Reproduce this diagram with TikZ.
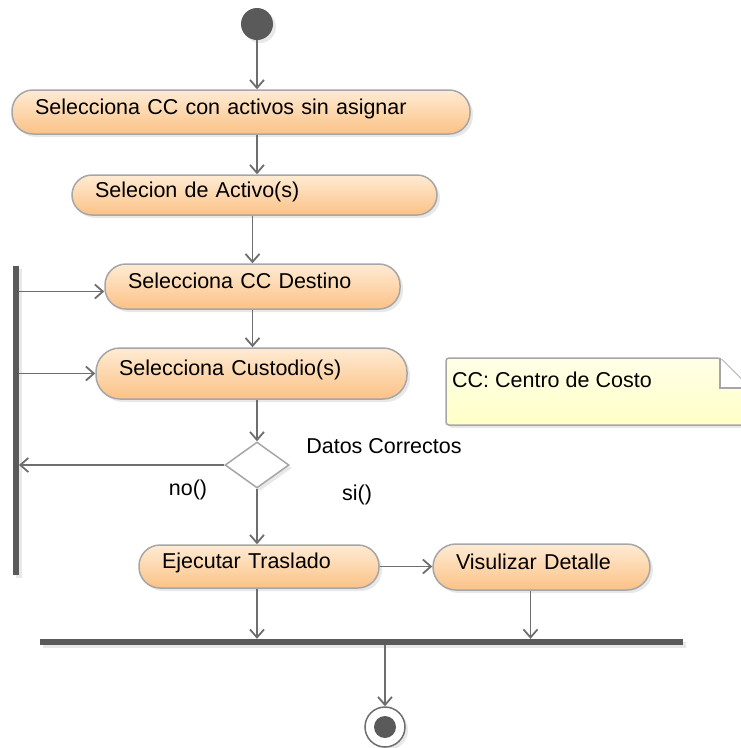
\documentclass[tikz,border=0pt]{standalone}
\usepackage{fontspec}
\setmainfont{Liberation Sans}
\usetikzlibrary{shapes.geometric,arrows.meta,shadows}
\definecolor{actiontop}{HTML}{FFEBD4}
\definecolor{actionbottom}{HTML}{FBC286}
\definecolor{linegray}{HTML}{6E6E6E}
\definecolor{bordergray}{HTML}{A6A6A6}
\definecolor{bargray}{HTML}{5A5A5A}
\definecolor{notetop}{HTML}{FFFFE8}
\definecolor{notebottom}{HTML}{FFFFC6}
\begin{document}
\begin{tikzpicture}[x=1pt, y=-1pt, font=\fontsize{21.5}{25}\selectfont,
                soft shadow/.style={drop shadow={opacity=0.18, shadow xshift=3pt, shadow yshift=-3pt}},
                action node/.style={rectangle, rounded corners=21pt, draw=bordergray, line width=1.5pt, top color=actiontop, bottom color=actionbottom, inner xsep=23pt, inner ysep=4pt, text height=16pt, text depth=12pt, align=left, soft shadow},
                bar node/.style={rectangle, fill=bargray, inner sep=0pt, soft shadow},
                flow/.style={color=linegray, every edge/.style={draw, line width=1.8pt, -{Straight Barb[length=8pt,width=14pt,line width=1.8pt]}}}]
                \useasboundingbox (0, 0) rectangle (741, 748);

                \node[circle, fill=bargray, minimum size=32pt, inner sep=0pt, soft shadow] at (257, 24) (start) {};
                \node[action node, minimum width=458pt, minimum height=44pt, text width=412pt] at (241, 112) (a1) {Selecciona CC con activos sin asignar};
                \node[action node, rounded corners=20pt, minimum width=365pt, minimum height=40pt, text width=319pt] at (254.5, 195) (a2) {Selecion de Activo(s)};
                \node[action node, minimum width=295pt, minimum height=45pt, text width=249pt] at (252.5, 286.5) (a3) {Selecciona CC Destino};
                \node[action node, rounded corners=24pt, minimum width=311pt, minimum height=51pt, text width=265pt] at (251.5, 373.5) (a4) {Selecciona Custodio(s)};
                \node[diamond, draw=bordergray, fill=white, line width=1.5pt, minimum width=64pt, minimum height=46pt, inner sep=0pt, soft shadow] at (257, 465) (dec) {};
                \node[action node, minimum width=240pt, minimum height=43pt, text width=194pt] at (259, 566.5) (a5) {Ejecutar Traslado};
                \node[action node, rounded corners=23pt, minimum width=217pt, minimum height=46pt, text width=171pt] at (541.5, 567) (a6) {Visulizar Detalle};
                \node[bar node, minimum width=5.5pt, minimum height=309pt] at (16, 420.5) (fork) {};
                \node[bar node, minimum width=643pt, minimum height=6pt] at (361.5, 642) (join) {};
                \node[circle, draw=linegray, fill=white, line width=1.5pt, minimum size=40pt, inner sep=0pt, soft shadow] at (385, 727) (end) {};
                \node[circle, fill=bargray, minimum size=22pt, inner sep=0pt] at (end) (enddot) {};

                \node at (384, 446) (datos) {Datos Correctos};
                \node at (188, 490) (no) {no()};
                \node at (357, 495) (si) {si()};

                \draw[bordergray, line width=1.5pt, top color=notetop, bottom color=notebottom, rounded corners=3pt, soft shadow] (446, 358) -- (720, 358) -- (750, 388) -- (750, 425) -- (446, 425) -- cycle;
                \draw[bordergray, line width=1.5pt, fill=white] (720, 358) -- (720, 388) -- (750, 388);
                \node[anchor=west, inner sep=0pt] at (452, 380) (notetext) {CC: Centro de Costo};

            \path[flow] (start) edge (a1.north -| start);
            \path[flow] (a1.south -| start) edge (a2.north -| start);
            \path[flow] (a2.south -| a3) edge (a3.north);
            \path[flow] (a3.south -| a3) edge (a4.north -| a3);
            \path[flow] (a4.south -| dec) edge (dec.north);
            \path[flow] (dec.west) edge (fork.east |- dec.west);
            \path[flow] ([yshift=-5pt]fork.east |- a3.west) edge ([yshift=-5pt]a3.west);
            \path[flow] (fork.east |- a4.west) edge (a4.west);
            \path[flow] (dec.south) edge (a5.north -| dec);
            \path[flow] (a5.east) edge (a6.west |- a5.east);
            \path[flow] (a5.south -| dec) edge (join.north -| dec);
            \path[flow] ([xshift=-11pt]a6.south) edge ([xshift=-11pt]a6.south |- join.north);
            \path[flow] (join.south -| end) edge (end.north);

            \end{tikzpicture}
\end{document}
